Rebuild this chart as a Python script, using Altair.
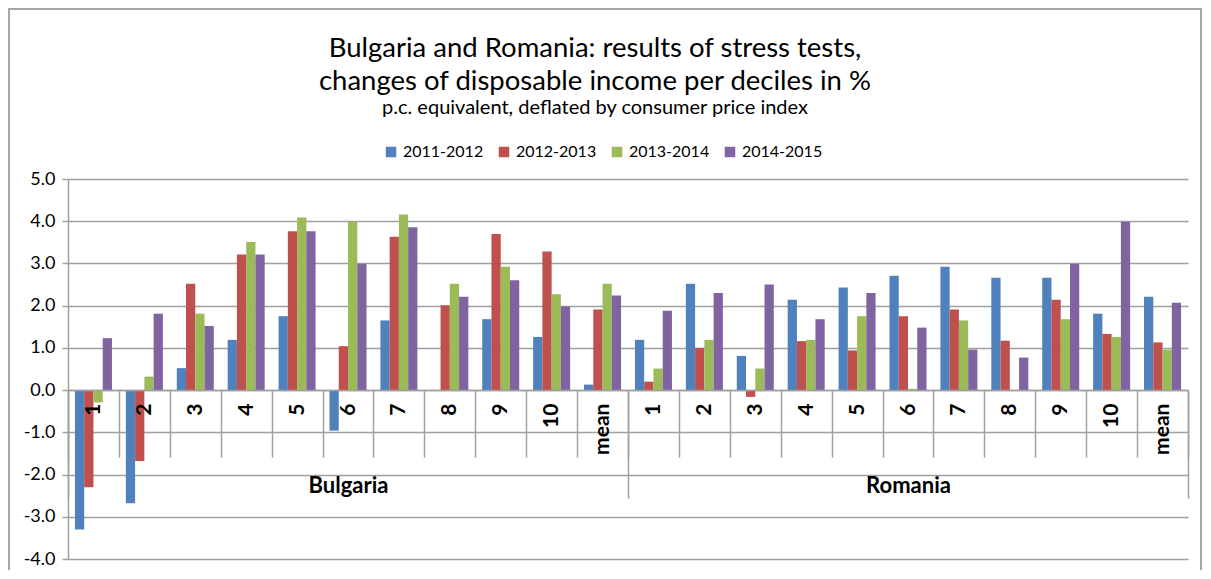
import altair as alt
import pandas as pd

countries = ["Bulgaria", "Romania"]
deciles = ["1", "2", "3", "4", "5", "6", "7", "8", "9", "10", "mean"]
periods = ["2011-2012", "2012-2013", "2013-2014", "2014-2015"]
colors = ["#4F81BD", "#C0504D", "#9BBB59", "#8064A2"]

bg_2011_2012 = [-3.30, -2.68, 0.52, 1.19, 1.75, -0.96, 1.65, 0.00, 1.68, 1.26, 0.13]
bg_2012_2013 = [-2.30, -1.68, 2.52, 3.21, 3.76, 1.04, 3.63, 2.01, 3.70, 3.28, 1.91]
bg_2013_2014 = [-0.29, 0.32, 1.81, 3.51, 4.09, 3.99, 4.16, 2.52, 2.92, 2.27, 2.52]
bg_2014_2015 = [1.23, 1.81, 1.52, 3.21, 3.76, 2.99, 3.86, 2.21, 2.60, 1.98, 2.24]

ro_2011_2012 = [1.19, 2.52, 0.81, 2.14, 2.43, 2.71, 2.92, 2.66, 2.66, 1.81, 2.21]
ro_2012_2013 = [0.20, 1.00, -0.16, 1.16, 0.94, 1.75, 1.91, 1.17, 2.14, 1.33, 1.13]
ro_2013_2014 = [0.51, 1.19, 0.51, 1.19, 1.75, 0.03, 1.65, 0.00, 1.68, 1.26, 0.96]
ro_2014_2015 = [1.88, 2.30, 2.50, 1.68, 2.30, 1.48, 0.96, 0.77, 2.99, 3.99, 2.07]

series = {
    "Bulgaria": [bg_2011_2012, bg_2012_2013, bg_2013_2014, bg_2014_2015],
    "Romania": [ro_2011_2012, ro_2012_2013, ro_2013_2014, ro_2014_2015],
}

title_lines = ["Bulgaria and Romania: results of stress tests,",
               "changes of disposable income per deciles in %"]
subtitle = "p.c. equivalent, deflated by consumer price index"

order = [f"{c}|{d}" for c in countries for d in deciles]

rows = []
for c in countries:
    for pi, p in enumerate(periods):
        for di, d in enumerate(deciles):
            rows.append({"key": f"{c}|{d}", "period": p, "value": series[c][pi][di]})
df = pd.DataFrame(rows)
group_df = pd.DataFrame({"country": countries})
frame_df = pd.DataFrame({"k": [1]})

GRID = "#a0a0a0"
FONT = "Lato"
H = 380
ZERO_OFFSET = -(H * 4 / 9)   # move the category axes up to the 0.0 line

bars = alt.Chart(df).mark_bar().encode(
    x=alt.X("key:N",
            scale=alt.Scale(domain=order, paddingInner=0, paddingOuter=0),
            axis=alt.Axis(title=None, orient="bottom", offset=ZERO_OFFSET, zindex=1,
                          labelExpr="split(datum.value, '|')[1]",
                          labelAngle=270, labelAlign="right", labelBaseline="middle",
                          labelFont=FONT, labelFontSize=21, labelFontWeight="bold",
                          labelColor="black", labelPadding=-54, labelOverlap=False,
                          tickBand="extent", tickSize=67, tickColor=GRID, tickWidth=1.5,
                          domainColor=GRID, domainWidth=1.5, grid=False)),
    xOffset=alt.XOffset("period:N",
                        scale=alt.Scale(domain=periods, paddingInner=0, paddingOuter=0.75)),
    y=alt.Y("value:Q", stack=None,
            scale=alt.Scale(domain=[-4, 5], nice=False, zero=False),
            axis=alt.Axis(title=None, values=[-4, -3, -2, -1, 0, 1, 2, 3, 4, 5],
                          labelExpr="replace(format(datum.value, '.1f'), '\u2212', '-')",
                          labelFont=FONT, labelFontSize=18, labelColor="black",
                          labelPadding=7, tickSize=6, tickColor=GRID, tickWidth=1.5,
                          domainColor=GRID, domainWidth=1.5,
                          gridColor=GRID, gridWidth=1.5)),
    color=alt.Color("period:N",
                    scale=alt.Scale(domain=periods, range=colors),
                    legend=alt.Legend(title=None, orient="none", legendX=315, legendY=-35,
                                      direction="horizontal", symbolType="square",
                                      symbolSize=110, symbolStrokeWidth=0,
                                      labelFont=FONT, labelFontSize=16, labelColor="black",
                                      labelOffset=4, columnPadding=12)),
)

groups = alt.Chart(group_df).mark_text(opacity=0).encode(
    x=alt.X("country:N",
            scale=alt.Scale(domain=countries, paddingInner=0, paddingOuter=0),
            axis=alt.Axis(title=None, orient="bottom", offset=ZERO_OFFSET,
                          labelAngle=0, labelAlign="center", labelBaseline="middle",
                          labelFont=FONT, labelFontSize=22, labelFontWeight="bold",
                          labelColor="black", labelPadding=-13,
                          tickBand="extent", tickSize=108, tickColor=GRID, tickWidth=1.5,
                          domain=False, grid=False)),
    text="country:N",
)

frame = alt.Chart(frame_df).mark_rect(fillOpacity=0, stroke="#a6a6a6", strokeWidth=2).encode(
    x=alt.value(-59), x2=alt.value(1133), y=alt.value(-170), y2=alt.value(440)
)

chart = alt.layer(frame, bars, groups).resolve_scale(x="independent").properties(
    width=1120,
    height=H,
    padding={"left": 60, "top": 171, "right": 14, "bottom": 11},
    autosize=alt.AutoSizeParams(type="none"),
    title=alt.Title(text=title_lines, subtitle=subtitle, anchor="middle", frame="group",
                    font=FONT, fontSize=27.5, fontWeight="normal", color="black",
                    lineHeight=33, subtitleFont=FONT, subtitleFontSize=20,
                    subtitleColor="black", subtitlePadding=3, dx=-33, offset=-110),
).configure_view(stroke=None)

chart.save("out.html", embed_options={"renderer": "svg", "actions": False})
